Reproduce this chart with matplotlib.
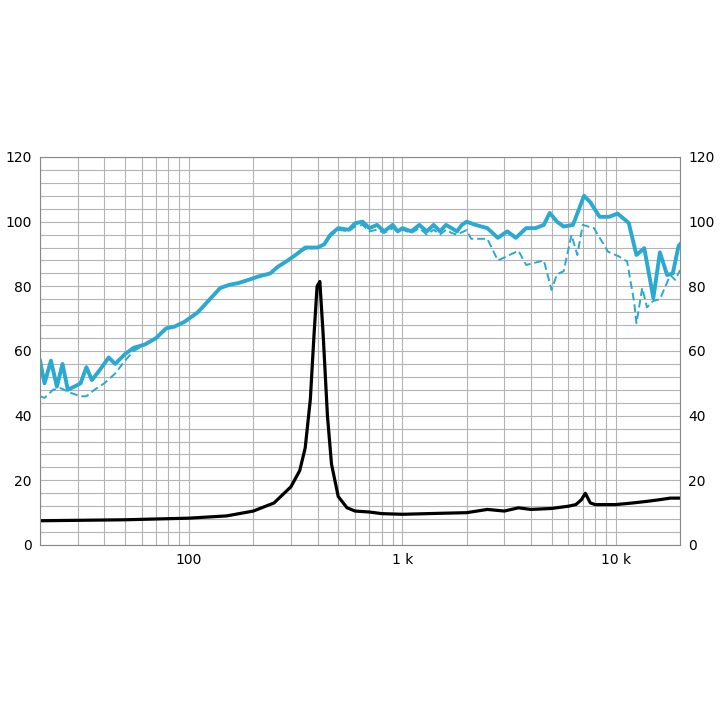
import numpy as np
import matplotlib.pyplot as plt
from matplotlib.ticker import FixedLocator, NullFormatter

# réponse en fréquence (axe)
f_spl = [20, 21, 22.5, 24, 25.5, 27, 29, 31, 33, 35, 38, 42, 45, 50, 55, 62, 70, 78, 85, 95,
         110, 125, 140, 155, 170, 190, 210, 240, 260, 290, 320, 350, 400, 430, 460, 500, 560,
         600, 650, 700, 760, 820, 900, 950, 1000, 1100, 1200, 1300, 1400, 1500, 1600, 1700,
         1800, 1900, 2000, 2200, 2500, 2800, 3100, 3400, 3800, 4200, 4600, 4900, 5300, 5700,
         6300, 7100, 7600, 8400, 9300, 10200, 11500, 12500, 13600, 15000, 16100, 17400, 18500,
         19700, 20000]
spl = [57, 50, 57, 49, 56, 48, 49, 50, 55, 51, 54, 58, 56, 59, 61, 62, 64, 67, 67.5, 69,
       72, 76, 79.5, 80.5, 81, 82, 83, 84, 86, 88, 90, 92, 92, 93, 96, 98, 97.5,
       99.5, 100, 98, 99, 97, 99, 97, 98, 97, 99, 97, 99, 97, 99, 98,
       97, 99, 100, 99, 98, 95, 97, 95, 98, 98, 99, 102.7, 100, 98.5,
       99, 108, 106, 101.5, 101.5, 102.5, 99.6, 89.7, 91.8, 76.4, 90.5, 83.5, 84,
       92.5, 93]

# réponse hors axe (pointillés)
f_off = [20, 21, 23, 25, 28, 31, 33, 36, 40, 45, 50, 55, 62, 70, 78, 85, 95,
         110, 125, 140, 155, 170, 190, 210, 240, 260, 290, 320, 350, 400, 430, 460, 500, 560,
         600, 650, 700, 760, 820, 900, 950, 1000, 1100, 1200, 1300, 1400, 1500, 1600, 1700,
         1800, 2000, 2100, 2500, 2800, 3500, 3800, 4600, 5000, 5300, 5700, 6200, 6600, 7000,
         7900, 9200, 10300, 11300, 12200, 12500, 13300, 14000, 15000, 16100, 18000, 19000, 20000]
off = [46, 45.5, 48, 48.5, 47, 46, 46, 48, 50, 53, 57, 60, 62, 64, 67, 67.5, 69,
       72, 76, 79.5, 80.5, 81, 82, 83, 84, 86, 88, 90, 91.5, 92, 93, 95.5, 97.5, 97,
       98.5, 99, 97, 97.5, 96.5, 98, 97, 97.5, 96.5, 98, 96, 97.5, 96, 97.5, 96.5,
       96, 97.4, 94.7, 94.7, 88, 91, 86.6, 88, 78.9, 83.7, 84.7, 95.9, 89.7, 99,
       98, 90.7, 89.3, 87.7, 75, 68.6, 79.5, 73.5, 75.5, 76, 83.5, 82, 85]

# impédance
f_imp = [20, 50, 100, 150, 200, 250, 300, 330, 350, 370, 385, 398, 410, 425, 445, 465, 500,
         550, 600, 700, 800, 1000, 1500, 2000, 2500, 3000, 3500, 4000, 5000, 6000, 6500,
         6900, 7200, 7600, 8000, 10000, 12000, 14000, 16000, 18000, 20000]
imp = [7.5, 7.8, 8.3, 9, 10.5, 13, 18, 23, 30, 45, 65, 80, 81.5, 65, 40, 25, 15,
       11.5, 10.5, 10.2, 9.7, 9.5, 9.8, 10, 11, 10.5, 11.5, 11, 11.3, 12, 12.5,
       14, 16, 13, 12.5, 12.5, 13, 13.5, 14, 14.5, 14.5]

bleu = "#2aa9d2"

fig = plt.figure(figsize=(7.2, 7.2), dpi=100)
ax = fig.add_axes([40/720, 1-545/720, 640/720, 388/720])
ax.plot(f_spl, spl, color=bleu, lw=2.8)
ax.plot(f_off, off, color=bleu, lw=1.4, ls=(0, (4, 2)))
ax.plot(f_imp, imp, color="black", lw=2.3)

ax.set_xscale("log")
ax.set_xlim(20, 20000)
ax.set_ylim(0, 120)
ax.set_yticks(range(0, 121, 20))
ax.set_yticks(range(0, 121, 4), minor=True)
ax.xaxis.set_major_locator(FixedLocator([100, 1000, 10000]))
ax.set_xticklabels(["100", "1 k", "10 k"])
minor = [m * 10**d for d in range(1, 5) for m in range(2, 10) if 20 <= m * 10**d <= 20000]
ax.xaxis.set_minor_locator(FixedLocator(minor))
ax.xaxis.set_minor_formatter(NullFormatter())
ax.grid(which="both", color="#b4b4b4", lw=0.8)
ax.set_axisbelow(True)
ax.tick_params(which="both", length=0, labelsize=10, pad=6)
ax.tick_params(axis="y", labelright=True)
for s in ax.spines.values():
    s.set_color("#888888")

fig.savefig("out.png", dpi=100)
